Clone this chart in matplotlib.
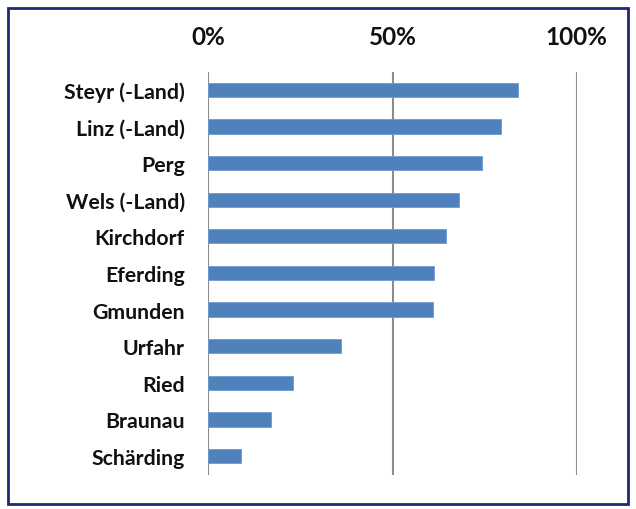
import matplotlib
matplotlib.use("Agg")
import matplotlib.pyplot as plt
from matplotlib.patches import Rectangle
from matplotlib.ticker import FuncFormatter

categories = ["Steyr (-Land)", "Linz (-Land)", "Perg", "Wels (-Land)", "Kirchdorf",
              "Eferding", "Gmunden", "Urfahr", "Ried", "Braunau", "Schärding"]
values = [84.0, 79.4, 74.4, 68.0, 64.5, 61.3, 61.1, 36.1, 23.1, 16.9, 8.9]
xticks = [0, 50, 100]

plt.rcParams['font.family'] = ['Lato', 'DejaVu Sans']

fig = plt.figure(figsize=(6.36, 5.10), dpi=100)
ax = fig.add_axes([208.3/636, 1-476/510, (576.7-208.3)/636, (476-73)/510])

ypos = list(range(len(categories)))
ax.barh(ypos, values, height=0.39, color="#4F81BD", edgecolor="#6E9BD0", linewidth=0.6, zorder=3)
ax.set_xlim(0, 100)
ax.set_ylim(len(categories) - 0.48, -0.49)
ax.set_yticks(ypos)
ax.set_yticklabels(categories)
ax.set_xticks(xticks)
ax.xaxis.set_major_formatter(FuncFormatter(lambda v, p: f"{int(v)}%"))
ax.xaxis.tick_top()
ax.tick_params(axis='x', length=0, pad=17, labelsize=17.5)
ax.tick_params(axis='y', length=0, pad=17, labelsize=15.3)
for lab in ax.get_xticklabels() + ax.get_yticklabels():
    lab.set_fontweight('bold')
    lab.set_color('#111111')
ax.grid(axis='x', color='#8C8C8C', linewidth=1.5, zorder=0)
ax.grid(axis='y', visible=False)
for s in ax.spines.values():
    s.set_visible(False)

fig.patches.append(Rectangle((8/636, 1-505/510), 620/636, 496/510, transform=fig.transFigure,
                             fill=False, edgecolor='#1F2870', linewidth=2.0))

fig.savefig("out.png", dpi=100)
